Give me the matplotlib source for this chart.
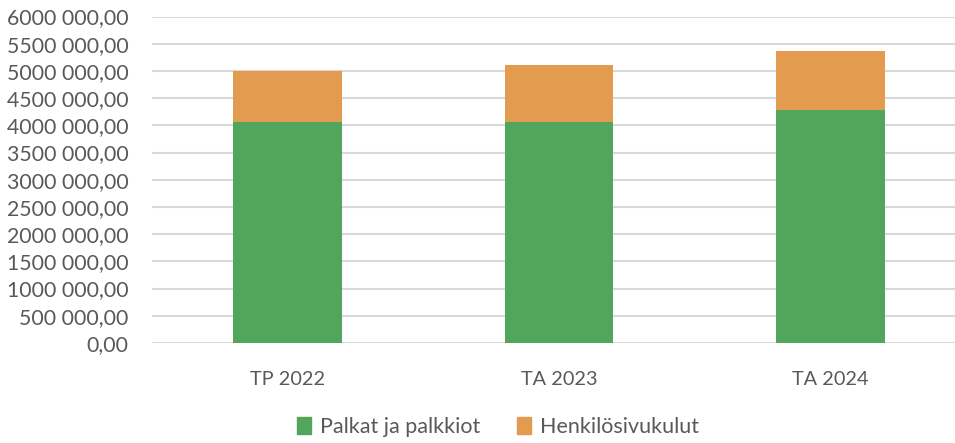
import matplotlib.pyplot as plt
from matplotlib.ticker import FuncFormatter, MultipleLocator
from matplotlib.patches import Patch

# data
categories = ['TP 2022', 'TA 2023', 'TA 2024']
palkat = [4055000, 4068000, 4288000]
sivukulut = [950000, 1042000, 1073000]
series_names = ['Palkat ja palkkiot', 'Henkilösivukulut']

green = '#52A55C'
orange = '#E39B50'
text_grey = '#595959'

plt.rcParams['font.family'] = ['Lato', 'DejaVu Sans']

fig = plt.figure(figsize=(9.55, 4.43), dpi=100)
ax = fig.add_axes([152 / 955, 100 / 443, 803 / 955, 326.5 / 443])

x = range(len(categories))
ax.bar(x, palkat, width=0.4, color=green, zorder=3)
ax.bar(x, sivukulut, width=0.4, bottom=palkat, color=orange, zorder=3)

ax.set_ylim(0, 6000000)
ax.set_xlim(-0.5, 2.458)
ax.yaxis.set_major_locator(MultipleLocator(500000))


def fi_money(v, pos):
    v = int(round(v))
    if v == 0:
        return '0,00'
    return f'{v // 1000} {v % 1000:03d},00'


ax.yaxis.set_major_formatter(FuncFormatter(fi_money))
ax.grid(axis='y', color='#D9D9D9', linewidth=1.5, zorder=0)
for s in ax.spines.values():
    s.set_visible(False)
ax.tick_params(axis='y', length=0, pad=17, labelsize=15.3, labelcolor=text_grey)
ax.tick_params(axis='x', length=0, pad=20, labelsize=14.3, labelcolor=text_grey)
ax.set_xticks(list(x))
ax.set_xticklabels(categories)

handles = [Patch(color=green, label=series_names[0]),
           Patch(color=orange, label=series_names[1])]
fig.legend(handles=handles, loc='center', bbox_to_anchor=(498 / 955, 16 / 443),
           ncol=2, frameon=False, fontsize=15.5, labelcolor=text_grey,
           handlelength=0.65, handleheight=0.85, handletextpad=0.4, columnspacing=1.7)

fig.savefig('out.png', dpi=100)
